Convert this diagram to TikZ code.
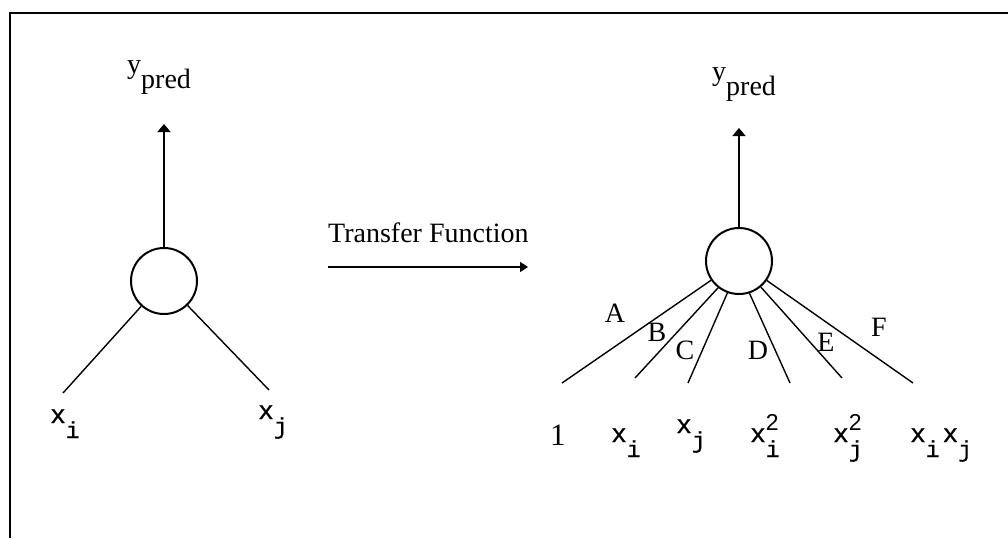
\documentclass[tikz,border=0pt]{standalone}
\usepackage{fontspec}
\setmainfont{Liberation Serif}
\newfontfamily\monof[FakeBold=0.8]{Liberation Mono}
\newfontfamily\sansf{Liberation Sans}
\usetikzlibrary{arrows.meta}
\newcommand{\subx}[1]{\raisebox{-15pt}{\fontsize{23}{23}\selectfont #1}}
\newcommand{\xsb}[1]{{\monof\fontsize{26}{26}\selectfont x\subx{#1}}}
\newcommand{\xsq}[1]{{\monof\fontsize{26}{26}\selectfont x\rlap{\subx{#1}}\raisebox{12pt}{\sansf\fontsize{23}{23}\selectfont 2}}}
\begin{document}
\begin{tikzpicture}[x=1pt,y=-1pt,
  lbl/.style={inner sep=0pt,anchor=base west,font=\fontsize{28}{30}\selectfont},
  neuron/.style={circle,draw,line width=2pt,minimum size=66pt,inner sep=0pt},
  conn/.style={line width=1.4pt},
  outarrow/.style={line width=1.6pt,-{Triangle[length=8pt,width=13pt]}},
  letter/.style={inner sep=0pt,font=\fontsize{28}{30}\selectfont}]
\useasboundingbox (0,0) rectangle (1008,538);
% frame
\draw[line width=2pt] (9.5,538) -- (9.5,13) -- (1008,13);

% left network
\node[neuron] (L) at (164,281) {};
\coordinate (Ltop) at (164,124);
\draw[outarrow] (L) -- (Ltop);
\node[lbl] (Ly) at (127,73) {y\raisebox{-15pt}{pred}};
\coordinate (Li) at (63,393);
\coordinate (Lj) at (269,390);
\draw[conn] (L) -- (Li);
\draw[conn] (L) -- (Lj);
\node[lbl] (Lxi) at (50,423) {\xsb{i}};
\node[lbl] (Lxj) at (258,419) {\xsb{j}};

% transfer arrow
\node[lbl] (TF) at (328,242) {Transfer Function};
\coordinate (Ta) at (328,267);
\coordinate (Tb) at (528,267);
\draw[line width=1.6pt,-{Triangle[length=8pt,width=10pt]}] (Ta) -- (Tb);

% right network
\node[neuron] (R) at (739,261) {};
\coordinate (Rtop) at (739,128);
\draw[outarrow] (R) -- (Rtop);
\node[lbl] (Ry) at (712,80) {y\raisebox{-15pt}{pred}};

\coordinate (eA) at (562,383);
\coordinate (eB) at (635,378);
\coordinate (eC) at (688,383);
\coordinate (eD) at (790,383);
\coordinate (eE) at (842,378);
\coordinate (eF) at (913,383);
\draw[conn] (R) -- (eA);
\draw[conn] (R.-128) -- (eB);
\draw[conn] (R.-110) -- (eC);
\draw[conn] (R.-72) -- (eD);
\draw[conn] (R.-50) -- (eE);
\draw[conn] (R) -- (eF);

\node[letter] (lA) at (615,313) {A};
\node[letter] (lB) at (657,332) {B};
\node[letter] (lC) at (685,350) {C};
\node[letter] (lD) at (758,350) {D};
\node[letter] (lE) at (826,342) {E};
\node[letter] (lF) at (879,327) {F};

\node[lbl,font=\fontsize{31}{31}\selectfont] (b1) at (550,445) {1};
\node[lbl] (bxi) at (611,442) {\xsb{i}};
\node[lbl] (bxj) at (676,433) {\xsb{j}};
\node[lbl] (bxi2) at (750,442) {\xsq{i}};
\node[lbl] (bxj2) at (833,442) {\xsq{j}};
\node[lbl] (bxixj) at (910,442) {\xsb{i}\hspace{3pt}\xsb{j}};
\end{tikzpicture}
\end{document}
